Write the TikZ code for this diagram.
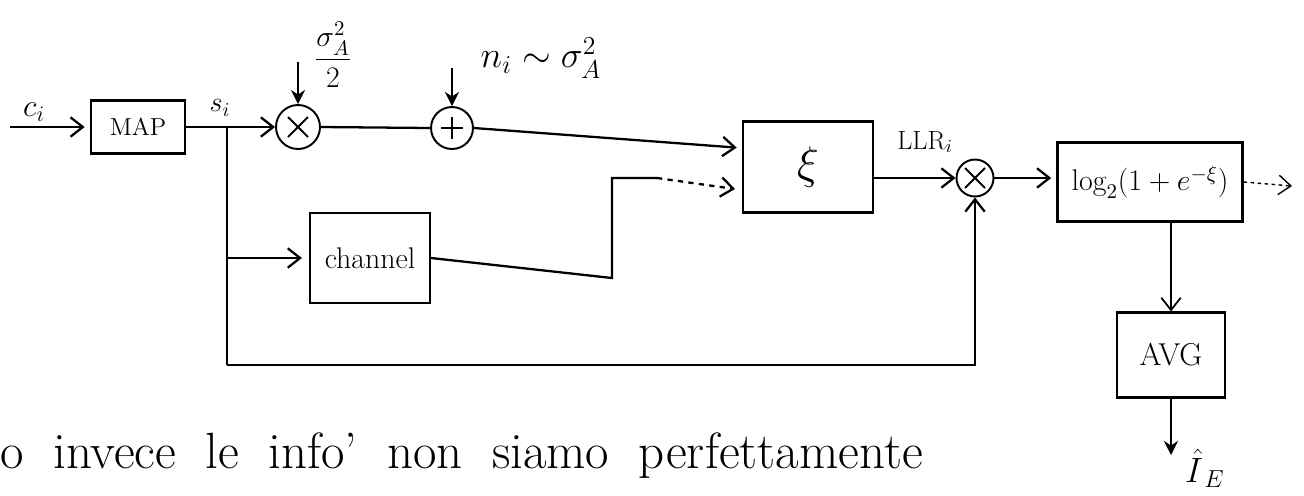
\RequirePackage{fix-cm}
\documentclass[tikz,border=0pt]{standalone}
\usepackage{amsmath}
\usepackage{fontspec}
\usetikzlibrary{arrows.meta}
\begin{document}
\begin{tikzpicture}[x=0.02cm,y=-0.02cm,
  wire/.style={line width=1.3pt},
  arr/.style={wire,-{Straight Barb[length=7pt,width=11pt]}},
  farr/.style={wire,-{Stealth[length=8pt,width=8pt]}},
  blk/.style={draw,line width=1.2pt,inner sep=0pt},
  ring/.style={circle,draw,line width=1.1pt,inner sep=0pt},
  mult/.style={ring,path picture={
    \draw[line width=1.1pt]
      ([shift={(-0.2cm,-0.2cm)}]path picture bounding box.center) -- ([shift={(0.2cm,0.2cm)}]path picture bounding box.center)
      ([shift={(-0.2cm,0.2cm)}]path picture bounding box.center) -- ([shift={(0.2cm,-0.2cm)}]path picture bounding box.center);}},
  add/.style={ring,path picture={
    \draw[line width=1.1pt]
      ([shift={(-0.22cm,0cm)}]path picture bounding box.center) -- ([shift={(0.22cm,0cm)}]path picture bounding box.center)
      ([shift={(0cm,-0.22cm)}]path picture bounding box.center) -- ([shift={(0cm,0.22cm)}]path picture bounding box.center);}},
  lbl/.style={inner sep=1pt}
]
\useasboundingbox (0,0) rectangle (1304,495);

% blocks
\node[blk,minimum width=1.88cm,minimum height=1.06cm,font=\fontsize{14}{16}\selectfont] (map) at (138,127) {MAP};
\node[mult,minimum size=0.88cm] (m1) at (298,127) {};
\node[add,minimum size=0.84cm] (ad) at (452,128) {};
\node[blk,minimum width=2.6cm,minimum height=1.82cm,font=\fontsize{26}{28}\selectfont] (xi) at (808,167) {$\xi$};
\node[blk,minimum width=2.4cm,minimum height=1.8cm,font=\fontsize{17}{19}\selectfont] (ch) at (370,258) {channel};
\node[mult,minimum size=0.74cm] (m2) at (975,178) {};
\node[blk,minimum width=3.7cm,minimum height=1.58cm,font=\fontsize{17}{19}\selectfont] (lg) at (1150,182) {$\log_2(1+e^{-\xi})$};
\node[blk,minimum width=2.16cm,minimum height=1.7cm,font=\fontsize{18}{20}\selectfont] (avg) at (1171,355) {AVG};

% free ends and bends
\coordinate (cin) at (10,127);
\coordinate (br) at (227,127);
\coordinate (bl) at (227,365);
\coordinate (t1) at (298,62);
\coordinate (t2) at (452,68);
\coordinate (cA) at (612,278);
\coordinate (cB) at (612,178);
\coordinate (cC) at (657,178);
\coordinate (lgout) at (1292,186);
\coordinate (ie) at (1171,455);

% labels
\node[lbl,font=\fontsize{18}{20}\selectfont] (ci) at (34,112) {$c_i$};
\node[lbl,font=\fontsize{16}{18}\selectfont] (si) at (220,108) {$s_i$};
\node[lbl,font=\fontsize{17}{19}\selectfont] (sg) at (333,55) {$\dfrac{\sigma_A^2}{2}$};
\node[lbl,font=\fontsize{21}{23}\selectfont] (ni) at (541,58) {$n_i\sim\sigma_A^2$};
\node[lbl,font=\fontsize{15}{17}\selectfont] (llr) at (925,142) {LLR$_i$};
\node[lbl,anchor=west,font=\fontsize{20}{22}\selectfont] (iE) at (1183,468) {$\hat{I}_{\,E}$};
\node[anchor=base west,inner sep=0pt,font=\fontsize{29}{31}\selectfont] (note) at (0,468)
  {\spaceskip=0.58em\relax o invece le info' non siamo perfettamente};

% connectors
\draw[arr,shorten >=3pt] (cin) -- (map.west);
\draw[wire] (map.east) -- (br);
\draw[arr] (br) -- (m1.west);
\draw[farr] (t1) -- (m1.north);
\draw[wire] (m1.east) -- (ad.west);
\draw[farr] (t2) -- (ad.north);
\draw[arr,shorten >=3pt] (ad.east) -- ([yshift=0.38cm]xi.west);
\draw[wire] (br) -- (bl);
\draw[arr,shorten >=4pt] (br |- ch.west) -- (ch.west);
\draw[wire] (ch.east) -- (cA) -- (cB) -- (cC);
\draw[arr,dashed,shorten >=4pt] (cC) -- ([yshift=-0.46cm]xi.west);
\draw[arr] (xi.east |- m2.west) -- (m2.west);
\draw[arr] (bl) -| (m2.south);
\draw[arr,shorten >=3pt] (m2.east) -- (m2.east -| lg.west);
\draw[arr,line width=0.8pt,dash pattern=on 2pt off 2pt] (lg.east) -- (lgout);
\draw[arr,line width=1pt] (avg.north |- lg.south) -- (avg.north);
\draw[farr] (avg.south) -- (ie);
\end{tikzpicture}
\end{document}
